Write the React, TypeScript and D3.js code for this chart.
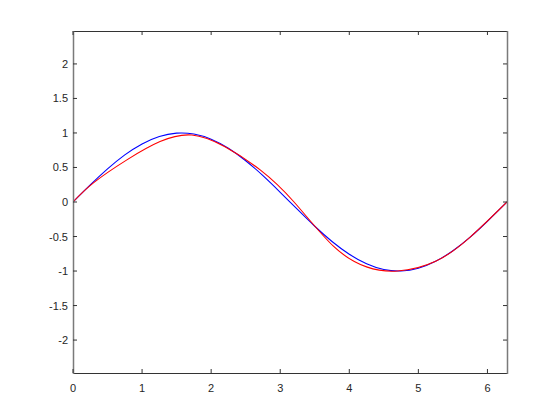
import React from "react";
import * as d3 from "d3";

const xTicks = [0, 1, 2, 3, 4, 5, 6];
const yTicks = [-2, -1.5, -1, -0.5, 0, 0.5, 1, 1.5, 2];
const yTickLabels = ["-2", "-1.5", "-1", "-0.5", "0", "0.5", "1", "1.5", "2"];

// blue series
const blueX = [0, 0.25, 0.5, 0.75, 1, 1.25, 1.5, 1.75, 2, 2.25, 2.5, 2.75, 3, 3.25, 3.5, 3.75, 4, 4.25, 4.5, 4.75, 5, 5.25, 5.5, 5.75, 6, 6.2832];
const blueY = [0, 0.247, 0.479, 0.682, 0.841, 0.949, 0.997, 0.984, 0.909, 0.778, 0.598, 0.382, 0.141, -0.108, -0.351, -0.572, -0.757, -0.895, -0.978, -0.999, -0.959, -0.859, -0.706, -0.509, -0.279, 0];

// red series
const redX = [0, 0.3, 0.78, 1.26, 1.72, 2.2, 2.71, 3.2, 3.77, 4.25, 4.7, 5.25, 5.75, 6.2832];
const redY = [0, 0.28, 0.61, 0.875, 0.97, 0.8, 0.465, 0.0, -0.64, -0.94, -1.0, -0.859, -0.509, 0];

const W = 560, H = 420;
const left = 73, right = 507, top = 31, bottom = 373;
const xMax = 6.2832;
const yMax = 2.477;

export default function App() {
  const x = d3.scaleLinear().domain([0, xMax]).range([left, right]);
  const y = d3.scaleLinear().domain([-yMax, yMax]).range([bottom, top]);
  const line = d3.line<[number, number]>().x(d => x(d[0])).y(d => y(d[1])).curve(d3.curveNatural);
  const blue = line(blueX.map((v, i) => [v, blueY[i]] as [number, number])) || "";
  const red = line(redX.map((v, i) => [v, redY[i]] as [number, number])) || "";
  const font = "'Liberation Sans', Arial, sans-serif";
  const tl = 4;
  return (
    <svg width={W} height={H} style={{ position: "absolute", left: 0, top: 0, background: "#fff" }}>
      <rect x={0} y={0} width={W} height={H} fill="#fff" />
      <defs>
        <clipPath id="clip">
          <rect x={left} y={top} width={right - left} height={bottom - top} />
        </clipPath>
      </defs>
      <g clipPath="url(#clip)">
        <path d={blue} fill="none" stroke="#0000ff" strokeWidth={1.1} />
        <path d={red} fill="none" stroke="#ff0000" strokeWidth={1.1} />
      </g>
      {/* box */}
      <line x1={left} x2={right} y1={top + 0.5} y2={top + 0.5} stroke="#333" strokeWidth={1} />
      <line x1={left} x2={right} y1={bottom + 0.5} y2={bottom + 0.5} stroke="#333" strokeWidth={1} />
      <line x1={left + 0.5} x2={left + 0.5} y1={top} y2={bottom + 1} stroke="#7a7a7a" strokeWidth={1.5} />
      <line x1={right + 0.5} x2={right + 0.5} y1={top} y2={bottom + 1} stroke="#7a7a7a" strokeWidth={1.5} />
      {xTicks.map(t => (
        <g key={"x" + t}>
          <line x1={x(t)} x2={x(t)} y1={bottom} y2={bottom - tl} stroke="#333" />
          <line x1={x(t)} x2={x(t)} y1={top} y2={top + tl} stroke="#333" />
          <text x={x(t)} y={bottom + 19} textAnchor="middle" fontFamily={font} fontSize={11} fill="#262626">{t}</text>
        </g>
      ))}
      {yTicks.map((t, i) => (
        <g key={"y" + t}>
          <line x1={left} x2={left + tl} y1={y(t)} y2={y(t)} stroke="#333" />
          <line x1={right} x2={right - tl} y1={y(t)} y2={y(t)} stroke="#333" />
          <text x={left - 5} y={y(t) + 4} textAnchor="end" fontFamily={font} fontSize={11} fill="#262626">{yTickLabels[i]}</text>
        </g>
      ))}
    </svg>
  );
}
